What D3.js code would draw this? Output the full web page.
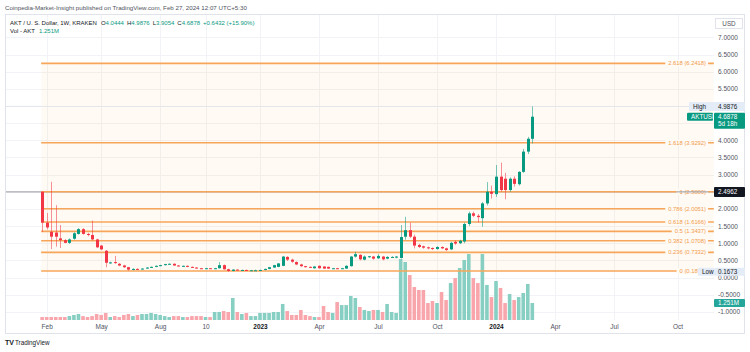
<!DOCTYPE html>
<html lang="en">
<head>
<meta charset="utf-8">
<title>AKT / U. S. Dollar, 1W</title>
<script src="https://cdn.jsdelivr.net/npm/d3@7/dist/d3.min.js"></script>
<style>
  body { margin: 0; background: #fff; }
  text { font-family: "Liberation Sans", Arial, sans-serif; }
  .axis path, .axis line { display: none; }
  .axis text {
    font-family: "Liberation Sans Narrow", "Liberation Sans", Arial, sans-serif;
    font-size: 6.5px;
    fill: #50535e;
  }
</style>
</head>
<body>
<script>
// weekly bars, the first one is Monday 31 Jan 2022
var firstWeek = new Date(2022, 0, 31);

var opens = [2.50, 1.60, 1.33, 1.31, 1.14, 1.09, 1.01, 1.13, 1.27, 1.41,
  1.27, 1.24, 1.11, 0.93, 0.78, 0.43, 0.45, 0.40, 0.35, 0.30,
  0.23, 0.25, 0.24, 0.26, 0.29, 0.31, 0.34, 0.36, 0.38, 0.40,
  0.35, 0.33, 0.34, 0.31, 0.29, 0.27, 0.26, 0.27, 0.26, 0.27,
  0.36, 0.24, 0.19, 0.23, 0.21, 0.22, 0.20, 0.21, 0.21, 0.22,
  0.25, 0.29, 0.31, 0.34, 0.60, 0.52, 0.45, 0.38, 0.33, 0.31,
  0.27, 0.34, 0.32, 0.31, 0.26, 0.27, 0.26, 0.26, 0.33, 0.61,
  0.66, 0.52, 0.60, 0.61, 0.56, 0.61, 0.55, 0.59, 0.58, 0.57,
  1.19, 1.38, 1.19, 0.95, 0.91, 0.88, 0.86, 0.83, 0.89, 0.85,
  0.82, 1.04, 1.00, 1.05, 1.56, 1.87, 1.80, 1.73, 2.16, 2.50,
  2.43, 2.94, 2.88, 2.55, 2.88, 2.72, 3.08, 3.67, 4.0444];
var highs = [2.50, 1.88, 2.79, 2.11, 1.53, 1.12, 1.14, 1.32, 1.44, 1.44,
  1.30, 1.66, 1.13, 0.95, 0.80, 0.46, 0.63, 0.42, 0.37, 0.31,
  0.27, 0.27, 0.27, 0.30, 0.32, 0.35, 0.37, 0.40, 0.41, 0.41,
  0.36, 0.35, 0.35, 0.32, 0.30, 0.28, 0.28, 0.28, 0.28, 0.45,
  0.38, 0.26, 0.24, 0.24, 0.23, 0.23, 0.22, 0.23, 0.23, 0.26,
  0.31, 0.37, 0.42, 0.63, 0.62, 0.55, 0.47, 0.40, 0.34, 0.32,
  0.33, 0.35, 0.33, 0.32, 0.28, 0.28, 0.28, 0.36, 0.63, 0.75,
  0.68, 0.64, 0.63, 0.63, 0.68, 0.63, 0.62, 0.62, 0.63, 1.53,
  1.77, 1.60, 1.25, 0.98, 0.93, 0.90, 0.88, 0.91, 0.91, 0.87,
  1.04, 1.08, 1.10, 1.60, 1.92, 1.92, 1.85, 2.20, 2.78, 2.68,
  3.28, 3.35, 3.05, 2.92, 2.95, 3.10, 3.75, 4.10, 4.9876];
var lows = [1.33, 1.40, 0.83, 0.90, 0.86, 1.00, 0.98, 1.10, 1.25, 1.25,
  1.20, 1.08, 0.86, 0.80, 0.30, 0.40, 0.40, 0.33, 0.28, 0.20,
  0.21, 0.23, 0.23, 0.25, 0.28, 0.30, 0.33, 0.35, 0.37, 0.34,
  0.32, 0.32, 0.30, 0.28, 0.26, 0.25, 0.25, 0.25, 0.25, 0.26,
  0.23, 0.1673, 0.18, 0.20, 0.20, 0.19, 0.19, 0.20, 0.20, 0.21,
  0.24, 0.28, 0.30, 0.33, 0.48, 0.43, 0.36, 0.31, 0.29, 0.28,
  0.26, 0.26, 0.25, 0.25, 0.25, 0.25, 0.25, 0.25, 0.32, 0.58,
  0.50, 0.50, 0.57, 0.52, 0.54, 0.50, 0.53, 0.57, 0.56, 0.55,
  1.10, 1.15, 0.85, 0.86, 0.84, 0.82, 0.80, 0.81, 0.83, 0.77,
  0.80, 0.95, 0.97, 1.00, 1.50, 1.76, 1.60, 1.48, 2.10, 2.30,
  2.35, 2.50, 2.28, 2.50, 2.65, 2.68, 3.05, 3.60, 3.9054];
var closes = [1.60, 1.46, 1.19, 1.19, 1.09, 1.01, 1.11, 1.29, 1.41, 1.27,
  1.24, 1.11, 0.88, 0.82, 0.43, 0.44, 0.42, 0.35, 0.30, 0.23,
  0.25, 0.24, 0.26, 0.29, 0.31, 0.34, 0.36, 0.39, 0.40, 0.35,
  0.33, 0.34, 0.31, 0.29, 0.27, 0.26, 0.27, 0.26, 0.27, 0.36,
  0.24, 0.19, 0.23, 0.21, 0.22, 0.20, 0.21, 0.21, 0.22, 0.25,
  0.30, 0.36, 0.41, 0.61, 0.52, 0.46, 0.38, 0.33, 0.31, 0.30,
  0.32, 0.27, 0.26, 0.26, 0.27, 0.26, 0.27, 0.34, 0.61, 0.68,
  0.53, 0.61, 0.62, 0.55, 0.63, 0.53, 0.60, 0.60, 0.61, 1.18,
  1.38, 1.19, 0.93, 0.89, 0.87, 0.85, 0.83, 0.89, 0.85, 0.80,
  1.01, 0.99, 1.07, 1.56, 1.87, 1.80, 1.76, 2.16, 2.50, 2.44,
  2.94, 2.55, 2.55, 2.88, 2.73, 3.08, 3.67, 4.0446, 4.6878];
// volume in millions of AKT
var volumes = [0.22, 0.22, 0.22, 0.22, 0.22, 0.22, 0.29, 0.37, 0.44, 0.29,
  0.22, 0.29, 0.44, 0.37, 0.52, 0.22, 0.29, 0.22, 0.37, 0.44,
  0.29, 0.37, 0.44, 0.44, 0.52, 0.44, 0.37, 0.29, 0.22, 0.29,
  0.29, 0.22, 0.22, 0.29, 0.29, 0.29, 0.22, 0.22, 0.59, 0.59,
  0.66, 0.59, 1.62, 0.59, 0.44, 0.52, 0.29, 0.29, 0.52, 0.52,
  0.52, 0.59, 0.59, 1.18, 0.66, 0.37, 0.37, 0.74, 0.37, 0.29,
  0.22, 0.22, 1.03, 0.59, 0.52, 1.32, 1.10, 1.10, 1.77, 1.62,
  0.96, 0.74, 0.66, 0.74, 0.74, 0.59, 1.18, 0.59, 0.52, 4.49,
  4.27, 3.31, 2.43, 2.21, 2.21, 1.25, 1.40, 1.25, 2.06, 1.47,
  2.72, 3.09, 3.83, 4.42, 4.86, 3.09, 2.72, 4.86, 2.58, 1.69,
  2.87, 2.36, 1.25, 1.91, 1.47, 1.69, 1.99, 2.65, 1.251];

// price scale labels (5.0, 4.5 and 2.5 sit under the marker boxes)
var priceTicks = [7, 6.5, 6, 5.5, 4, 3.5, 3, 2, 1.5, 1, 0.5, 0, -0.5, -1];
var gridPrices = [7, 6.5, 6, 5.5, 5, 4.5, 4, 3.5, 3, 2.5, 2, 1.5, 1, 0.5, 0, -0.5, -1];

// time scale labels
var timeDates = [new Date(2022, 1, 7), new Date(2022, 4, 2), new Date(2022, 7, 1), new Date(2022, 9, 10),
  new Date(2023, 0, 2), new Date(2023, 3, 3), new Date(2023, 6, 3), new Date(2023, 9, 2),
  new Date(2024, 0, 1), new Date(2024, 3, 1), new Date(2024, 6, 1), new Date(2024, 9, 7)];
var timeLabels = ["Feb", "May", "Aug", "10", "2023", "Apr", "Jul", "Oct", "2024", "Apr", "Jul", "Oct"];

// fibonacci retracement
var fibRatios = [0, 0.236, 0.382, 0.5, 0.618, 0.786, 1, 1.618, 2.618];
var fibLow = 0.1874, fibHigh = 2.5;
var fibStart = new Date(2022, 0, 31), fibEnd = new Date(2024, 11, 2);

var lastPrice = 4.6878, highPrice = 4.9876, lowPrice = 0.1673, markPrice = 2.4962, lastVol = 1.251;

//Width and height
var w = 750, h = 352;
var plotLeft = 5, plotRight = 714, plotTop = 15, plotBottom = 320;

var green = "#089981", red = "#f23645";

var candles = opens.map(function(o, i) {
    return { date: d3.timeMonday.offset(firstWeek, i), o: o, h: highs[i], l: lows[i], c: closes[i], v: volumes[i] };
});

//Scales
var xScale = d3.scaleTime()
               .domain([new Date(2023, 0, 2), new Date(2024, 0, 1)])
               .range([260, 496]);
var yScale = d3.scaleLinear()
               .domain([0, 7])
               .range([277.5, 37.4]);
var volScale = d3.scaleLinear()
               .domain([0, d3.max(volumes)])
               .range([plotBottom, 254]);

var svg = d3.select("body").append("svg")
            .attr("width", w)
            .attr("height", h);

//Header line
svg.append("text")
   .attr("x", 5).attr("y", 9.5)
   .attr("font-size", "6.2px")
   .attr("fill", "#50535e")
   .text("Coinpedia-Market-Insight published on TradingView.com, Feb 27, 2024 12:07 UTC+5:30");

//Frame
svg.append("rect")
   .attr("x", 5.5).attr("y", 14.5)
   .attr("width", 739).attr("height", 319)
   .attr("fill", "none")
   .attr("stroke", "#e0e3eb");

svg.append("clipPath").attr("id", "plot-area")
   .append("rect")
   .attr("x", plotLeft + 1).attr("y", plotTop)
   .attr("width", plotRight - plotLeft - 1).attr("height", plotBottom - plotTop);

var plot = svg.append("g").attr("clip-path", "url(#plot-area)");

//Grid
plot.selectAll(".hgrid").data(gridPrices).enter().append("line")
    .attr("x1", plotLeft).attr("x2", plotRight)
    .attr("y1", function(d) { return Math.round(yScale(d)) + 0.5; })
    .attr("y2", function(d) { return Math.round(yScale(d)) + 0.5; })
    .attr("stroke", "#f2f3f6");
plot.selectAll(".vgrid").data(timeDates).enter().append("line")
    .attr("x1", function(d) { return Math.round(xScale(d)) + 0.5; })
    .attr("x2", function(d) { return Math.round(xScale(d)) + 0.5; })
    .attr("y1", plotTop).attr("y2", plotBottom)
    .attr("stroke", "#f2f3f6");

function fibPrice(r) { return fibLow + r * (fibHigh - fibLow); }
var fx0 = xScale(fibStart) - 1, fx1 = xScale(fibEnd);

//Fib background
plot.append("rect")
    .attr("x", fx0)
    .attr("y", yScale(fibPrice(2.618)))
    .attr("width", fx1 - fx0)
    .attr("height", yScale(fibPrice(0)) - yScale(fibPrice(2.618)))
    .attr("fill", "#ff9800")
    .attr("fill-opacity", 0.045);

//Volume
plot.selectAll(".vol").data(candles).enter().append("rect")
    .attr("x", function(d) { return xScale(d.date) - 1.8; })
    .attr("width", 3.6)
    .attr("y", function(d) { return volScale(d.v); })
    .attr("height", function(d) { return plotBottom - volScale(d.v); })
    .attr("fill", function(d) { return d.c >= d.o ? "#88cfc3" : "#f8a6ac"; });

//Horizontal line at 2.4962
plot.append("line")
    .attr("x1", plotLeft).attr("x2", plotRight)
    .attr("y1", yScale(markPrice)).attr("y2", yScale(markPrice))
    .attr("stroke", "#9598a1");

//High line
plot.append("line")
    .attr("x1", plotLeft).attr("x2", plotRight)
    .attr("y1", yScale(highPrice)).attr("y2", yScale(highPrice))
    .attr("stroke", "#e3e6ec");

//Fib levels
var fib = plot.selectAll(".fib").data(fibRatios).enter().append("g");
fib.append("line")
   .attr("x1", fx0).attr("x2", fx1)
   .attr("y1", function(d) { return yScale(fibPrice(d)); })
   .attr("y2", function(d) { return yScale(fibPrice(d)); })
   .attr("stroke", "#f7a659")
   .attr("stroke-width", 1.6);
var fibText = fib.append("text")
   .attr("x", plotRight - 8)
   .attr("y", function(d) { return yScale(fibPrice(d)); })
   .attr("dy", "0.35em")
   .attr("text-anchor", "end")
   .attr("font-size", "5.8px")
   .attr("fill", "#f29b4c")
   .text(function(d) { return d + " (" + fibPrice(d).toFixed(4) + ")"; });
fibText.each(function(d) {
    var b = this.getBBox();
    var g = d3.select(this.parentNode);
    g.insert("rect", "text")
      .attr("x", b.x - 3).attr("y", b.y)
      .attr("width", b.width + 5).attr("height", b.height)
      .attr("fill", "#fffaf4");
    // the 2.4962 line runs through the "1" label
    if (d === 1) {
        g.append("line")
         .attr("x1", b.x - 3).attr("x2", b.x + b.width + 2)
         .attr("y1", yScale(markPrice)).attr("y2", yScale(markPrice))
         .attr("stroke", "#9598a1");
    }
});

//Candles
var bars = plot.selectAll(".candle").data(candles).enter().append("g");
bars.append("line")
    .attr("x1", function(d) { return Math.round(xScale(d.date)) + 0.5; })
    .attr("x2", function(d) { return Math.round(xScale(d.date)) + 0.5; })
    .attr("y1", function(d) { return yScale(d.h); })
    .attr("y2", function(d) { return yScale(d.l); })
    .attr("stroke", function(d) { return d.c >= d.o ? green : red; })
    .attr("stroke-opacity", 0.55);
bars.append("rect")
    .attr("x", function(d) { return Math.round(xScale(d.date)) - 1; })
    .attr("width", 3)
    .attr("y", function(d) { return yScale(Math.max(d.o, d.c)); })
    .attr("height", function(d) { return Math.max(1, Math.abs(yScale(d.o) - yScale(d.c))); })
    .attr("fill", function(d) { return d.c >= d.o ? green : red; });

//Time axis
var xAxis = svg.append("g")
   .attr("class", "axis")
   .attr("transform", "translate(0," + plotBottom + ")")
   .call(d3.axisBottom(xScale)
           .tickValues(timeDates)
           .tickSize(0)
           .tickPadding(4)
           .tickFormat(function(d, i) { return timeLabels[i]; }));
xAxis.selectAll("text")
     .filter(function(d, i) { return /^\d{4}$/.test(timeLabels[i]); })
     .style("font-weight", "bold")
     .style("fill", "#131722");

//Price axis
svg.append("g")
   .attr("class", "axis")
   .attr("transform", "translate(" + plotRight + ",0)")
   .call(d3.axisRight(yScale)
           .tickValues(priceTicks)
           .tickSize(0)
           .tickPadding(4)
           .tickFormat(function(d) { return d.toFixed(4); }));

//Price scale markers
function marker(y, hgt, fill, txt, txtColor, x0, x1) {
    svg.append("rect")
       .attr("x", x0).attr("y", y - hgt / 2)
       .attr("width", x1 - x0).attr("height", hgt)
       .attr("rx", 1)
       .attr("fill", fill);
    svg.append("text")
       .attr("x", x0 + 4).attr("y", y)
       .attr("dy", "0.35em")
       .attr("font-size", "6.3px")
       .attr("fill", txtColor)
       .text(txt);
}
// High
marker(yScale(highPrice), 9, "#e4ecf7", "High", "#131722", 689, 714);
marker(yScale(highPrice), 9, "#e4ecf7", highPrice.toFixed(4), "#131722", 714, 745);
// Low
marker(yScale(lowPrice), 8, "#e4ecf7", "Low", "#131722", 698, 714);
marker(yScale(lowPrice), 8, "#e4ecf7", lowPrice.toFixed(4), "#131722", 714, 745);
// mark line
marker(yScale(markPrice), 10, "#131722", markPrice.toFixed(4), "#ffffff", 714, 745);
// symbol + last price
marker(yScale(lastPrice), 8, green, "AKTUSD", "#ffffff", 687, 713);
svg.append("rect")
   .attr("x", 714).attr("y", yScale(lastPrice) - 4)
   .attr("width", 31).attr("height", 16)
   .attr("rx", 1)
   .attr("fill", green);
svg.append("text")
   .attr("x", 718).attr("y", yScale(lastPrice)).attr("dy", "0.35em")
   .attr("font-size", "6.3px").attr("fill", "#fff")
   .text(lastPrice.toFixed(4));
svg.append("text")
   .attr("x", 718).attr("y", yScale(lastPrice) + 7.5).attr("dy", "0.35em")
   .attr("font-size", "6.3px").attr("fill", "#fff")
   .text("5d 18h");
// volume value
marker(volScale(lastVol), 8, "#26a69a", lastVol.toFixed(3) + "M", "#ffffff", 714, 745);

// USD box
svg.append("rect")
   .attr("x", 715.5).attr("y", 18.5)
   .attr("width", 27).attr("height", 10)
   .attr("fill", "#fff").attr("stroke", "#e0e3eb");
svg.append("text")
   .attr("x", 729).attr("y", 23.5).attr("dy", "0.35em")
   .attr("text-anchor", "middle")
   .attr("font-size", "6.3px").attr("fill", "#50535e")
   .text("USD");

//Legend
var legend1 = svg.append("text")
   .attr("x", 10).attr("y", 25)
   .attr("font-size", "6px")
   .attr("fill", "#131722");
legend1.append("tspan").text("AKT / U. S. Dollar, 1W, KRAKEN");
var last = opens.length - 1;
var ohlc = [["O", opens[last]], ["H", highs[last]], ["L", lows[last]], ["C", closes[last]]];
ohlc.forEach(function(p, i) {
    legend1.append("tspan").attr("dx", i === 0 ? 4 : 3).text(p[0]);
    legend1.append("tspan").attr("fill", green).text(p[1].toFixed(4));
});
var chg = closes[last] - closes[last - 1];
legend1.append("tspan").attr("dx", 3).attr("fill", green)
       .text("+" + chg.toFixed(4) + " (+" + (chg / closes[last - 1] * 100).toFixed(2) + "%)");

var legend2 = svg.append("text")
   .attr("x", 10).attr("y", 32.5)
   .attr("font-size", "6px")
   .attr("fill", "#131722");
legend2.append("tspan").text("Vol - AKT");
legend2.append("tspan").attr("dx", 4).attr("fill", green).text(lastVol.toFixed(3) + "M");

//TradingView mark
svg.append("text")
   .attr("x", 5).attr("y", 345)
   .attr("font-size", "7px").attr("font-weight", "bold")
   .attr("fill", "#131722")
   .text("TV");
svg.append("text")
   .attr("x", 15).attr("y", 345)
   .attr("font-size", "6.3px")
   .attr("fill", "#131722")
   .text("TradingView");
</script>
</body>
</html>
